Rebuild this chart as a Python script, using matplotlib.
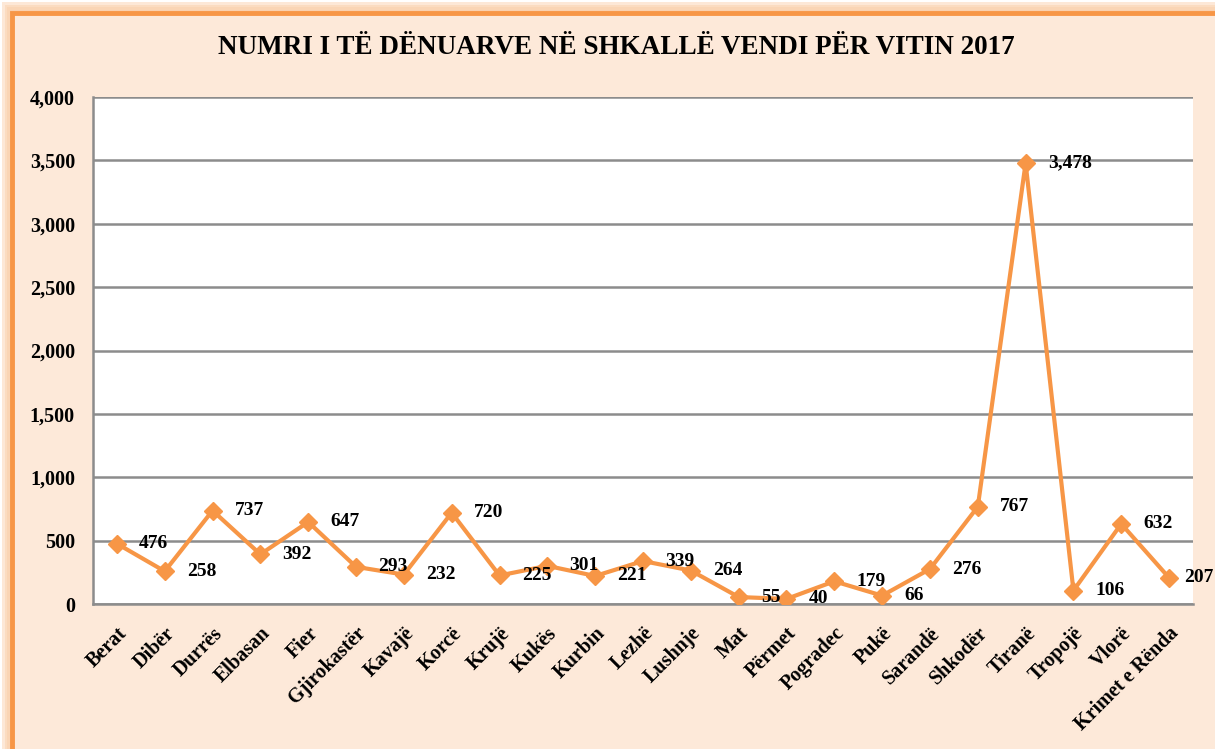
import numpy as np
import matplotlib
matplotlib.use("Agg")
import matplotlib.pyplot as plt
from matplotlib.patches import Rectangle

# data
districts = ["Berat", "Dibër", "Durrës", "Elbasan", "Fier", "Gjirokastër", "Kavajë",
             "Korcë", "Krujë", "Kukës", "Kurbin", "Lezhë", "Lushnje", "Mat", "Përmet",
             "Pogradec", "Pukë", "Sarandë", "Shkodër", "Tiranë", "Tropojë", "Vlorë",
             "Krimet e Rënda"]
convicted = [476, 258, 737, 392, 647, 293, 232, 720, 225, 301, 221, 339, 264, 55, 40,
             179, 66, 276, 767, 3478, 106, 632, 207]
yticks = [0, 500, 1000, 1500, 2000, 2500, 3000, 3500, 4000]

title = "NUMRI I TË DËNUARVE NË SHKALLË VENDI PËR VITIN 2017"

ORANGE = "#F79646"
PEACH = "#FDE9D9"
GRID = "#8C8C8C"

plt.rcParams["font.family"] = ["Liberation Serif", "DejaVu Serif"]
plt.rcParams["font.weight"] = "bold"

fig = plt.figure(figsize=(12.15, 7.49), dpi=100)
fig.patch.set_facecolor("white")

W, H = 1215.0, 749.0
# soft glow outside the chart frame
for i, a in enumerate([0.06, 0.12, 0.20, 0.30, 0.42]):
    off = 12 - i * 2.4
    fig.patches.append(Rectangle((off / W, -0.1), 2, (H - off) / H + 0.1,
                                 transform=fig.transFigure, facecolor=ORANGE,
                                 alpha=a * 0.5, edgecolor="none", zorder=0))
# chart area
fig.patches.append(Rectangle((12 / W, -0.1), 2, (H - 13) / H + 0.1,
                             transform=fig.transFigure, facecolor=PEACH,
                             edgecolor=ORANGE, linewidth=3.5, zorder=1))

ax = fig.add_axes([93 / W, 1 - 604 / H, 1100 / W, 507 / H])
ax.set_facecolor("white")
ax.set_zorder(2)

x = np.arange(len(districts))
ax.plot(x, convicted, color=ORANGE, lw=3, marker="D", ms=9, zorder=3)

for xi, v in zip(x, convicted):
    dx = 16 if xi < len(districts) - 1 else 11
    ax.annotate(f"{v:,}", (xi, v), xytext=(dx, 0), textcoords="offset points",
                ha="left", va="center", fontsize=14, fontweight="bold",
                annotation_clip=False, zorder=4)

ax.set_xlim(-0.5, len(districts) - 0.5)
ax.set_ylim(0, 4000)
ax.set_yticks(yticks)
ax.set_yticklabels([f"{t:,}" for t in yticks], fontsize=14.5, fontweight="bold")
ax.set_xticks(x)
ax.set_xticklabels(districts, rotation=45, ha="right", rotation_mode="anchor",
                   fontsize=14.5, fontweight="bold")
ax.tick_params(axis="both", length=0)
ax.tick_params(axis="y", pad=13)
ax.tick_params(axis="x", pad=14)

ax.grid(axis="y", color=GRID, lw=1.8)
ax.set_axisbelow(True)
for s in ["top", "right"]:
    ax.spines[s].set_visible(False)
ax.spines["left"].set_color(GRID)
ax.spines["left"].set_linewidth(1.8)
ax.spines["bottom"].set_color(GRID)
ax.spines["bottom"].set_linewidth(1.8)

fig.text(616 / W, 1 - 48 / H, title, ha="center", va="center",
         fontsize=19.5, fontweight="bold")

fig.savefig("out.png", dpi=100, facecolor=fig.get_facecolor())
